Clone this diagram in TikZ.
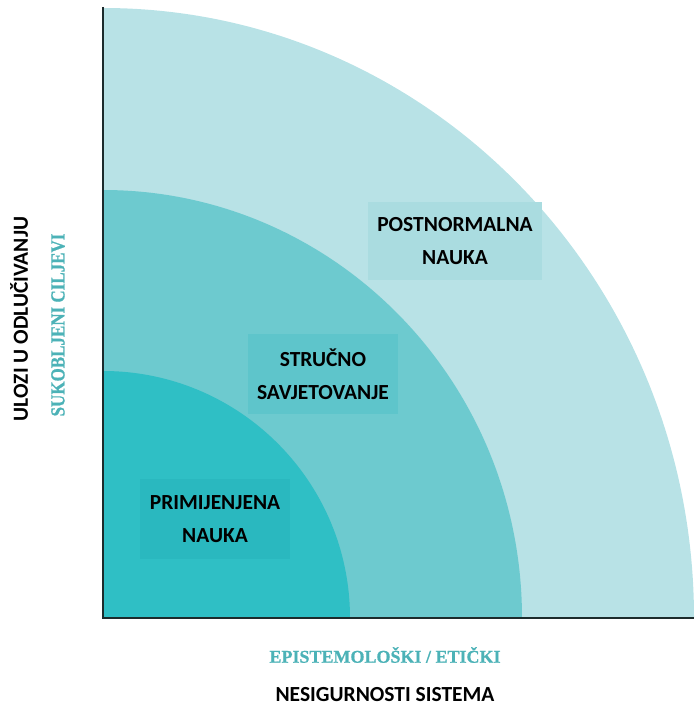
\documentclass[tikz,border=0pt]{standalone}
\usepackage{fontspec}
\setmainfont{Carlito}
\newfontfamily\tealserif[FakeBold=0.8]{Liberation Serif}
\newfontfamily\tealcond[FakeStretch=0.85,FakeBold=0.8]{Liberation Serif}
\definecolor{outerc}{HTML}{B8E2E6}
\definecolor{midc}{HTML}{6DCACF}
\definecolor{innerc}{HTML}{2FBFC5}
\definecolor{outerbox}{HTML}{AADCE0}
\definecolor{midbox}{HTML}{5EC5CB}
\definecolor{innerbox}{HTML}{2AB8BF}
\definecolor{tealtext}{HTML}{4CB2B7}
\definecolor{axisc}{HTML}{1C2B2C}
\begin{document}
\begin{tikzpicture}[x=1pt,y=1pt,
  zonebox/.style={align=center,inner sep=0pt,minimum width=#1,
    font={\fontsize{21.5}{33}\selectfont\bfseries},text=black},
  blacklabel/.style={font={\fontsize{21.5}{24}\selectfont\bfseries},text=black,inner sep=0pt},
  teallabel/.style={font={\tealserif\fontsize{18}{21}\selectfont\bfseries},text=tealtext,inner sep=0pt},
  tealvert/.style={font={\tealcond\fontsize{20}{23}\selectfont\bfseries},text=tealtext,inner sep=0pt,rotate=90}]
\useasboundingbox (0,0) rectangle (694,707);
\coordinate (O) at (103,89);
% zones
\fill[outerc] (O) -- (694,89) arc[start angle=0,end angle=90,x radius=591,y radius=610] -- cycle;
\fill[midc] (O) -- (522,89) arc[start angle=0,end angle=90,x radius=419,y radius=428] -- cycle;
\fill[innerc] (O) -- (350,89) arc[start angle=0,end angle=90,x radius=247,y radius=247] -- cycle;
% label boxes
\node[zonebox=174pt,fill=outerbox,minimum height=78pt] (pn) at (455,466) {POSTNORMALNA\\NAUKA};
\node[zonebox=150pt,fill=midbox,minimum height=80pt] (ss) at (323,333) {STRUČNO\\SAVJETOVANJE};
\node[zonebox=150pt,fill=innerbox,minimum height=80pt] (pr) at (215,188) {PRIMIJENJENA\\NAUKA};
% axes
\coordinate (ytop) at (103,700);
\coordinate (xend) at (694,89);
\draw[axisc,line width=2.2pt] (ytop) -- (O) -- (xend);
% axis labels
\node[teallabel] (ep) at (385,52) {EPISTEMOLOŠKI / ETIČKI};
\node[blacklabel] (ns) at (385,12) {NESIGURNOSTI SISTEMA};
\node[blacklabel,rotate=90] (ul) at (19,388) {ULOZI U ODLUČIVANJU};
\node[tealvert] (sc) at (58,382) {SUKOBLJENI CILJEVI};
\end{tikzpicture}
\end{document}
